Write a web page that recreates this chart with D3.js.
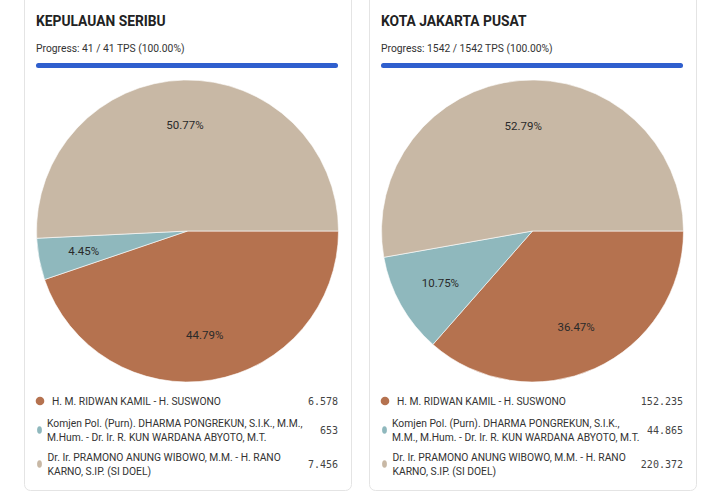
<!DOCTYPE html>
<html><head><meta charset="utf-8">
<script src="https://cdn.jsdelivr.net/npm/d3@7"></script>
<style>html,body{margin:0;padding:0;background:#fff;}svg{display:block;}</style>
</head><body>
<svg id="chart" width="720" height="492"></svg>
<script>
const regions = ["KEPULAUAN SERIBU", "KOTA JAKARTA PUSAT"];
const tpsDone = [41, 1542];
const tpsTotal = [41, 1542];
const candidates = [
  "H. M. RIDWAN KAMIL - H. SUSWONO",
  "Komjen Pol. (Purn). DHARMA PONGREKUN, S.I.K., M.M., M.Hum. - Dr. Ir. R. KUN WARDANA ABYOTO, M.T.",
  "Dr. Ir. PRAMONO ANUNG WIBOWO, M.M. - H. RANO KARNO, S.IP. (SI DOEL)"
];
const legendLines = [
  [["H. M. RIDWAN KAMIL - H. SUSWONO"],
   ["Komjen Pol. (Purn). DHARMA PONGREKUN, S.I.K., M.M.,", "M.Hum. - Dr. Ir. R. KUN WARDANA ABYOTO, M.T."],
   ["Dr. Ir. PRAMONO ANUNG WIBOWO, M.M. - H. RANO", "KARNO, S.IP. (SI DOEL)"]],
  [["H. M. RIDWAN KAMIL - H. SUSWONO"],
   ["Komjen Pol. (Purn). DHARMA PONGREKUN, S.I.K.,", "M.M., M.Hum. - Dr. Ir. R. KUN WARDANA ABYOTO, M.T."],
   ["Dr. Ir. PRAMONO ANUNG WIBOWO, M.M. - H. RANO", "KARNO, S.IP. (SI DOEL)"]]
];
const votesSeribu = [6578, 653, 7456];
const votesPusat = [152235, 44865, 220372];
const votes = [votesSeribu, votesPusat];
const colors = ["#b5724f", "#8fb8bd", "#c8b8a5"];

const loc = d3.formatLocale({decimal: ",", thousands: ".", grouping: [3], currency: ["Rp", ""]});
const fmtNum = loc.format(",d");
const fmtPct = d3.format(".2f");

const svg = d3.select("#chart");
const cardX = [24, 369];
const cardW = 327;

regions.forEach((name, i) => {
  const g = svg.append("g").attr("transform", `translate(${cardX[i]},0)`);
  g.append("rect").attr("x", 0.5).attr("y", -10).attr("width", cardW).attr("height", 500.5)
    .attr("rx", 6).attr("fill", "#fff").attr("stroke", "#e4e4e4").attr("stroke-width", 1);
  const left = 12;
  g.append("text").attr("x", left).attr("y", 26).text(name)
    .attr("font-family", "Roboto, 'Noto Sans', sans-serif").attr("font-weight", 700)
    .attr("font-size", 13.8).attr("fill", "#222");
  const pct = tpsDone[i] / tpsTotal[i] * 100;
  g.append("text").attr("x", left).attr("y", 52)
    .text(`Progress: ${tpsDone[i]} / ${tpsTotal[i]} TPS (${fmtPct(pct)}%)`)
    .attr("font-family", "Roboto, sans-serif").attr("font-size", 10.3).attr("fill", "#333");
  const barW = 302;
  const xb = d3.scaleLinear().domain([0, tpsTotal[i]]).range([0, barW]);
  g.append("rect").attr("x", left).attr("y", 63).attr("height", 5).attr("width", barW)
    .attr("rx", 2.5).attr("fill", "#e8e8e8");
  g.append("rect").attr("x", left).attr("y", 63).attr("height", 5).attr("width", xb(tpsDone[i]))
    .attr("rx", 2.5).attr("fill", "#2f5fce");

  // pie
  const cx = left + barW / 2 + 0.5, cy = 231, r = 151;
  const pie = d3.pie().sort(null).startAngle(Math.PI / 2).endAngle(Math.PI / 2 + 2 * Math.PI);
  const arcs = pie(votes[i]);
  const arc = d3.arc().innerRadius(0).outerRadius(r);
  const labelArc = d3.arc().innerRadius(r * 0.7).outerRadius(r * 0.7);
  const total = d3.sum(votes[i]);
  const pg = g.append("g").attr("transform", `translate(${cx},${cy})`);
  pg.selectAll("path").data(arcs).join("path").attr("d", arc)
    .attr("fill", (d, j) => colors[j]).attr("stroke", "#fff").attr("stroke-width", 0.6);
  pg.selectAll("text").data(arcs).join("text")
    .attr("transform", d => `translate(${labelArc.centroid(d)})`)
    .attr("text-anchor", "middle").attr("dy", "0.35em")
    .attr("font-family", "Roboto, sans-serif").attr("font-size", 11.5).attr("fill", "#2a2a2a")
    .text(d => fmtPct(d.value / total * 100) + "%");

  // legend
  const rows = [{y: 405, my: 401, circle: true, tx: 28}, {y: 427, my: 430, tx: 23}, {y: 461, my: 464, tx: 23.5}];
  candidates.forEach((c, j) => {
    const row = rows[j];
    if (row.circle) {
      g.append("circle").attr("cx", 16).attr("cy", row.my).attr("r", 4.3).attr("fill", colors[j]);
    } else {
      g.append("ellipse").attr("cx", 15.5).attr("cy", row.my).attr("rx", 2.4).attr("ry", 3.8).attr("fill", colors[j]);
    }
    const t = g.append("text").attr("font-family", "Roboto, sans-serif").attr("font-size", 10.3)
      .attr("fill", "#333").attr("y", row.y);
    legendLines[i][j].forEach((ln, k) => {
      t.append("tspan").attr("x", row.tx).attr("dy", k === 0 ? 0 : 14).text(ln);
    });
    const vy = legendLines[i][j].length > 1 ? row.y + 7 : row.y;
    g.append("text").attr("x", left + barW).attr("y", vy).attr("text-anchor", "end")
      .attr("font-family", "'DejaVu Sans Mono', 'Liberation Mono', monospace").attr("font-size", 10)
      .attr("fill", "#444").text(fmtNum(votes[i][j]));
  });
});
</script>
</body></html>
